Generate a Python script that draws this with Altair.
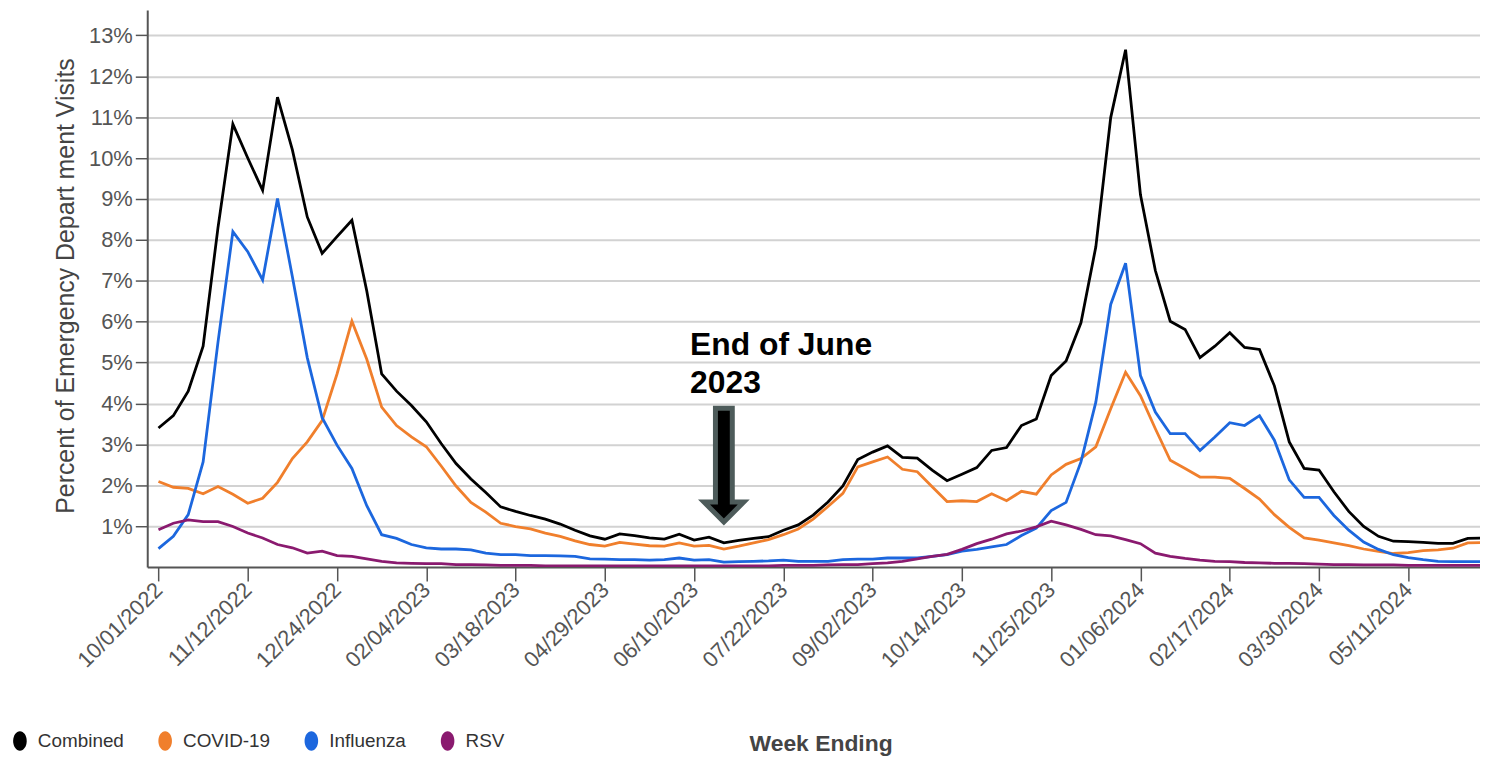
import altair as alt
import pandas as pd

# ---------------- data (percent of ED visits, weekly, week ending) ----------------
first_week = "2022-10-01"

combined = [3.40, 3.70, 4.30, 5.40, 8.30, 10.83, 10.00, 9.21, 11.49, 10.20,
            8.56, 7.67, 8.08, 8.48, 6.75, 4.72, 4.30, 3.95, 3.55, 3.02,
            2.53, 2.15, 1.82, 1.47, 1.36, 1.26, 1.17, 1.05, 0.90, 0.76,
            0.68, 0.81, 0.77, 0.71, 0.68, 0.80, 0.66, 0.73, 0.59, 0.65,
            0.70, 0.74, 0.90, 1.03, 1.27, 1.59, 1.98, 2.63, 2.81, 2.96,
            2.68, 2.66, 2.37, 2.11, 2.27, 2.43, 2.85, 2.92, 3.46, 3.62,
            4.68, 5.04, 5.97, 7.83, 10.99, 12.65, 9.10, 7.25, 6.01, 5.81,
            5.12, 5.40, 5.73, 5.37, 5.32, 4.43, 3.06, 2.41, 2.37, 1.84,
            1.36, 0.99, 0.75, 0.63, 0.62, 0.60, 0.58, 0.58, 0.70, 0.71]

covid = [2.09, 1.95, 1.92, 1.79, 1.97, 1.78, 1.56, 1.68, 2.07, 2.65,
         3.06, 3.58, 4.72, 6.01, 5.08, 3.91, 3.46, 3.18, 2.94, 2.47,
         1.98, 1.58, 1.34, 1.07, 0.99, 0.93, 0.83, 0.75, 0.64, 0.55,
         0.51, 0.60, 0.56, 0.52, 0.51, 0.59, 0.51, 0.53, 0.44, 0.51,
         0.59, 0.67, 0.79, 0.93, 1.17, 1.48, 1.80, 2.45, 2.57, 2.69,
         2.39, 2.33, 1.96, 1.60, 1.62, 1.60, 1.79, 1.62, 1.85, 1.78,
         2.25, 2.51, 2.65, 2.94, 3.87, 4.76, 4.19, 3.38, 2.61, 2.41,
         2.20, 2.20, 2.17, 1.92, 1.66, 1.28, 0.97, 0.71, 0.66, 0.59,
         0.52, 0.44, 0.38, 0.33, 0.35, 0.40, 0.42, 0.46, 0.59, 0.60]

influenza = [0.45, 0.75, 1.28, 2.57, 5.50, 8.20, 7.71, 7.02, 9.01, 7.10,
             5.12, 3.65, 2.98, 2.41, 1.50, 0.79, 0.70, 0.55, 0.47, 0.44,
             0.44, 0.42, 0.34, 0.30, 0.30, 0.28, 0.28, 0.27, 0.26, 0.20,
             0.19, 0.18, 0.18, 0.17, 0.18, 0.22, 0.17, 0.18, 0.12, 0.13,
             0.14, 0.15, 0.17, 0.14, 0.14, 0.14, 0.18, 0.19, 0.19, 0.22,
             0.22, 0.22, 0.26, 0.30, 0.39, 0.43, 0.49, 0.55, 0.77, 0.95,
             1.38, 1.58, 2.57, 4.03, 6.42, 7.43, 4.68, 3.79, 3.26, 3.26,
             2.85, 3.18, 3.53, 3.46, 3.70, 3.10, 2.13, 1.70, 1.70, 1.26,
             0.90, 0.61, 0.43, 0.30, 0.23, 0.18, 0.14, 0.13, 0.13, 0.13]

rsv = [0.91, 1.07, 1.15, 1.11, 1.11, 0.99, 0.83, 0.71, 0.55, 0.47,
       0.34, 0.39, 0.28, 0.26, 0.20, 0.14, 0.10, 0.09, 0.08, 0.08,
       0.06, 0.06, 0.05, 0.04, 0.04, 0.04, 0.03, 0.03, 0.03, 0.03,
       0.03, 0.03, 0.03, 0.03, 0.03, 0.03, 0.03, 0.03, 0.03, 0.03,
       0.03, 0.03, 0.04, 0.04, 0.04, 0.05, 0.06, 0.06, 0.08, 0.10,
       0.14, 0.20, 0.26, 0.31, 0.43, 0.57, 0.68, 0.81, 0.88, 0.98,
       1.12, 1.03, 0.92, 0.79, 0.76, 0.67, 0.57, 0.34, 0.26, 0.21,
       0.17, 0.14, 0.13, 0.11, 0.10, 0.09, 0.09, 0.08, 0.07, 0.06,
       0.06, 0.05, 0.05, 0.05, 0.04, 0.04, 0.04, 0.04, 0.04, 0.04]

series_names = ["Combined", "COVID-19", "Influenza", "RSV"]
series_colors = ["#000000", "#f07f2c", "#1c67de", "#8a1a6f"]

tick_dates = ["2022-10-01", "2022-11-12", "2022-12-24", "2023-02-04", "2023-03-18",
              "2023-04-29", "2023-06-10", "2023-07-22", "2023-09-02", "2023-10-14",
              "2023-11-25", "2024-01-06", "2024-02-17", "2024-03-30", "2024-05-11"]
y_ticks = [0.01, 0.02, 0.03, 0.04, 0.05, 0.06, 0.07, 0.08, 0.09, 0.10, 0.11, 0.12, 0.13]

annotation_date = "2023-06-24"
annotation_text = "End of June\n2023"
arrow_value = 0.0247
label_value = 0.0518

# ---------------- build table ----------------
def ms(s):
    return int(pd.Timestamp(s, tz="UTC").value // 10**6)

WEEK = 7 * 86400000
dates = pd.date_range(first_week, periods=len(combined), freq="7D")
rows = []
for name, vals in zip(series_names, [combined, covid, influenza, rsv]):
    for d, v in zip(dates, vals):
        rows.append({"week": d.strftime("%Y-%m-%d"), "series": name, "value": v / 100.0})
df = pd.DataFrame(rows)

t0 = ms(first_week)
x_domain = [t0 - int(0.755 * WEEK), t0 + int(88.82 * WEEK)]
tick_ms = [ms(s) for s in tick_dates]

FONT = "Liberation Sans, Arial, sans-serif"

x_enc = alt.X(
    "week:T",
    scale=alt.Scale(type="utc", domain=x_domain),
    axis=alt.Axis(
        values=tick_ms, labelExpr="utcFormat(datum.value, '%m/%d/%Y')",
        labelAngle=-45, labelAlign="right", labelBaseline="middle",
        labelFontSize=22, labelColor="#555555", labelPadding=5,
        tickSize=14, tickColor="#555555", tickWidth=1.5,
        domainColor="#555555", domainWidth=2, grid=False,
        title="Week Ending", titleFontSize=23, titleFontWeight="bold",
        titleColor="#444444", titleX=677, titleY=177,
        titleAlign="center", titleBaseline="middle",
        labelOverlap=False,
    ),
)
y_enc = alt.Y(
    "value:Q",
    scale=alt.Scale(domain=[0, 0.1362], nice=False, zero=False),
    axis=alt.Axis(
        values=y_ticks, format=".0%",
        labelFontSize=22, labelColor="#555555", labelPadding=3,
        tickSize=12, tickColor="#555555", tickWidth=1.5,
        domainColor="#555555", domainWidth=2,
        grid=True, gridColor="#d2d2d2", gridWidth=2,
        title="Percent of Emergency Depart ment Visits",
        titleFontSize=25, titleFontWeight="normal", titleColor="#444444",
        titleX=-82, titleY=277, titleAlign="center", titleBaseline="middle",
    ),
)

lines = alt.Chart(df).mark_line(strokeWidth=2.8, clip=True).encode(
    color=alt.Color("series:N",
                    scale=alt.Scale(domain=series_names, range=series_colors),
                    legend=None)
)

ELLIPSE = "M0,-1 A0.7,1 0 1,1 0,1 A0.7,1 0 1,1 0,-1 Z"
legend_pts = alt.Chart(df).mark_point(filled=True, size=0, strokeWidth=0).encode(
    color=alt.Color(
        "series:N", scale=alt.Scale(domain=series_names, range=series_colors),
        legend=alt.Legend(
            orient="none", legendX=-138, legendY=725,
            direction="horizontal", columns=4, title=None,
            symbolType=ELLIPSE, symbolSize=380, symbolStrokeWidth=0,
            symbolOpacity=1, labelFontSize=19, labelColor="#333333",
            labelFont=FONT, labelOffset=8, columnPadding=31, padding=0,
        ),
    )
)

ann_df = pd.DataFrame({"week": [annotation_date], "value": [arrow_value]})
ARROW = "M-0.14,-0.959 L0.14,-0.959 L0.14,0.60 L0.33,0.60 L0,0.93 L-0.33,0.60 L-0.14,0.60 Z"
arrow = alt.Chart(ann_df).mark_point(
    shape=ARROW, size=14641, filled=True, fill="#000000", stroke="#4d5b5a",
    strokeWidth=5, opacity=1
)

txt_df = pd.DataFrame({"week": [annotation_date], "value": [label_value]})
label = alt.Chart(txt_df).mark_text(
    text=annotation_text, lineBreak="\n", align="left", baseline="alphabetic",
    dx=-34, fontSize=32, fontWeight="bold", font=FONT, color="#000000", lineHeight=38
)

chart = alt.layer(lines, legend_pts, arrow, label).encode(
    x=x_enc, y=y_enc
).resolve_scale(color="independent").properties(
    width=1340, height=560,
    autosize=alt.AutoSizeParams(type="none"),
    padding={"left": 140, "top": 0, "right": 0, "bottom": 190},
).configure_view(stroke=None).configure_axis(labelFont=FONT, titleFont=FONT)

chart.save("out.html", embed_options={"renderer": "svg", "actions": False})
